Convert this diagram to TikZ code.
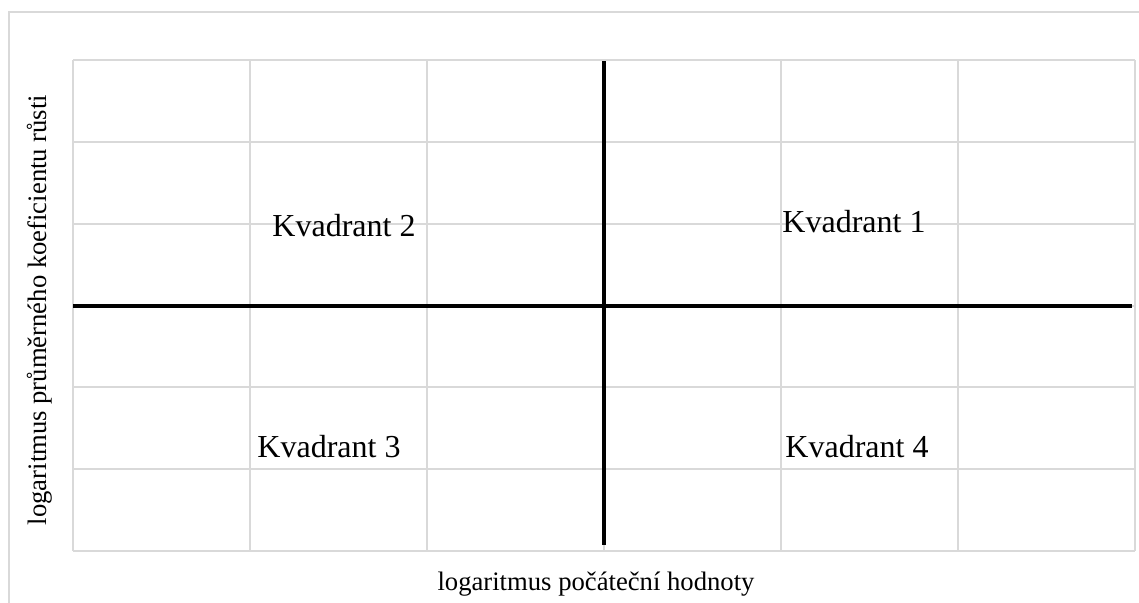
\documentclass[tikz,border=0pt]{standalone}
\usepackage{fontspec}
\setmainfont{Liberation Serif}
\tikzset{
  gridline/.style={draw=black!15,line width=1.5pt},
  quadaxis/.style={draw=black,line width=3pt},
  quadlabel/.style={font=\fontsize{24}{28}\selectfont,anchor=base},
  axislabel/.style={font=\fontsize{20}{24}\selectfont}
}
\begin{document}
\begin{tikzpicture}[x=0.75pt,y=-0.75pt]
      \useasboundingbox (0,0) rectangle (1139,603);
      \draw[gridline] (9,603) -- (9,12) -- (1139,12);
      \foreach \i in {0,...,6} {
        \draw[gridline] ({73+177*\i},60) -- ({73+177*\i},551);
        \draw[gridline] (73,{60+491/6*\i}) -- (1135,{60+491/6*\i});
      }
      \draw[quadaxis] (604,61) -- (604,545);
      \draw[quadaxis] (73,306) -- (1132,306);
      \node[quadlabel] (q1) at (854,232) {Kvadrant 1};
      \node[quadlabel] (q2) at (344,236) {Kvadrant 2};
      \node[quadlabel] (q3) at (329,457) {Kvadrant 3};
      \node[quadlabel] (q4) at (857,457) {Kvadrant 4};
      \node[axislabel] (xlab) at (596,584) {logaritmus počáteční hodnoty};
      \node[axislabel,rotate=90] (ylab) at (40,310) {logaritmus průměrného koeficientu růsti};
    \end{tikzpicture}
\end{document}
